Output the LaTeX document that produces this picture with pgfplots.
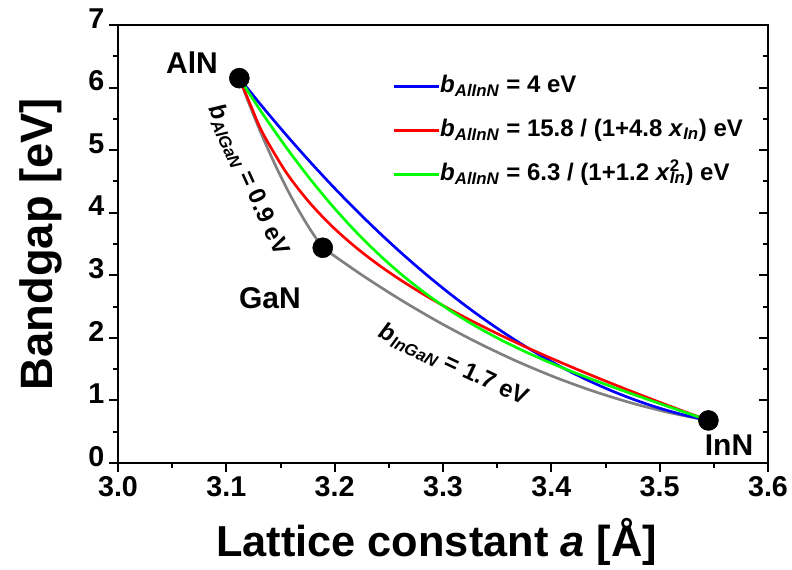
\documentclass[border=0pt]{standalone}
\usepackage{pgfplots}
\pgfplotsset{compat=1.18}
\usepackage{fontspec}
\setmainfont{Liberation Sans}
\definecolor{cblue}{RGB}{0,0,255}
\definecolor{cred}{RGB}{255,0,0}
\definecolor{cgreen}{RGB}{0,255,0}
\definecolor{cgray}{RGB}{128,128,128}
\begin{document}
\begin{tikzpicture}
\useasboundingbox (-88.5pt,-80.25pt) rectangle (505.5pt,347.25pt);
\begin{axis}[
  at={(0pt,0pt)}, anchor=south west,
  scale only axis, width=487.5pt, height=328.5pt,
  xmin=3.0, xmax=3.6, ymin=0, ymax=7,
  xtick={3.0,3.1,3.2,3.3,3.4,3.5,3.6},
  xticklabels={3.0,3.1,3.2,3.3,3.4,3.5,3.6},
  ytick={0,1,2,3,4,5,6,7},
  yticklabels={0,1,2,3,4,5,6,7},
  minor x tick num=1, minor y tick num=1,
  xtick pos=left, ytick pos=left,
  tick align=outside,
  major tick length=6.75pt, minor tick length=3.75pt,
  axis line style={line width=1.5pt},
  tick style={line width=1.5pt, black},
  ticklabel style={font=\fontsize{21.5}{24}\selectfont\bfseries},
  yticklabel style={yshift=5pt},
  xlabel={\textbf{Lattice constant \textit{a} [Å]}},
  ylabel={\textbf{Bandgap [eV]}},
  xlabel style={font=\fontsize{32.5}{36}\selectfont, at={(axis description cs:0.49,-0.2146)}, anchor=base},
  ylabel style={font=\fontsize{34}{38}\selectfont, at={(axis description cs:-0.1015,0.5)}, anchor=base, rotate=0},
  legend style={at={(axis description cs:0.4215,0.890)}, anchor=north west, draw=none, fill=none,
    inner sep=0pt, row sep=13pt, font=\fontsize{18}{20}\selectfont\bfseries,
    nodes={inner sep=0pt, text height=14pt, text depth=6pt},
    /tikz/every even column/.append style={column sep=6pt}},
  legend cell align=left,
  legend image code/.code={\draw[#1] (0pt,0pt) -- (34pt,0pt);},
]
% compound points
\addplot[only marks, mark=*, mark size=7.5pt, black, forget plot] coordinates {(3.112,6.15) (3.189,3.44) (3.545,0.68)};
% AlGaN (gray)
\addplot[cgray, line width=2pt, smooth, forget plot] coordinates {
(3.112,6.15) (3.1197,5.798) (3.1274,5.464) (3.1351,5.148) (3.1428,4.85) (3.1505,4.57)
(3.1582,4.308) (3.1659,4.064) (3.1736,3.838) (3.1813,3.63) (3.189,3.44)};
% InGaN (gray)
\addplot[cgray, line width=2pt, smooth, forget plot] coordinates {
(3.189,3.44) (3.2246,3.011) (3.2602,2.616) (3.2958,2.255) (3.3314,1.928) (3.367,1.635)
(3.4026,1.376) (3.4382,1.151) (3.4738,0.96) (3.5094,0.803) (3.545,0.68)};
% AlInN b=4
\addplot[cblue, line width=2pt, smooth] coordinates {
(3.112,6.15) (3.13365,5.6865) (3.1553,5.243) (3.17695,4.8195) (3.1986,4.416) (3.22025,4.0325)
(3.2419,3.669) (3.26355,3.3255) (3.2852,3.002) (3.30685,2.6985) (3.3285,2.415) (3.35015,2.1515)
(3.3718,1.908) (3.39345,1.6845) (3.4151,1.481) (3.43675,1.2975) (3.4584,1.134) (3.48005,0.9905)
(3.5017,0.867) (3.52335,0.7635) (3.545,0.68)};
\addlegendentry{\textit{b}\textsubscript{\textit{AlInN}} = 4 eV}
% AlInN red
\addplot[cred, line width=2pt, smooth] coordinates {
(3.112,6.15) (3.1233,5.68) (3.13365,5.2713) (3.1553,4.6422) (3.17695,4.1583) (3.1986,3.7662) (3.22025,3.4359)
(3.2419,3.1492) (3.26355,2.8943) (3.2852,2.6634) (3.30685,2.451) (3.3285,2.2532) (3.35015,2.0672)
(3.3718,1.8907) (3.39345,1.722) (3.4151,1.56) (3.43675,1.4035) (3.4584,1.2517) (3.48005,1.1039)
(3.5017,0.9597) (3.52335,0.8185) (3.545,0.68)};
\addlegendentry{\textit{b}\textsubscript{\textit{AlInN}} = 15.8 / (1+4.8 \textit{x}\textsubscript{\textit{In}}) eV}
% AlInN green
\addplot[cgreen, line width=2pt, smooth] coordinates {
(3.112,6.15) (3.13365,5.5781) (3.1553,5.0427) (3.17695,4.5474) (3.1986,4.0942) (3.22025,3.6837)
(3.2419,3.315) (3.26355,2.9859) (3.2852,2.6935) (3.30685,2.4341) (3.3285,2.2035) (3.35015,1.9975)
(3.3718,1.8121) (3.39345,1.6434) (3.4151,1.4879) (3.43675,1.3423) (3.4584,1.2039) (3.48005,1.0703)
(3.5017,0.9395) (3.52335,0.8098) (3.545,0.68)};
\addlegendentry{\textit{b}\textsubscript{\textit{AlInN}} = 6.3 / (1+1.2 \textit{x}\rlap{\textsuperscript{2}}\textsubscript{\textit{In}}) eV}
% labels
\node[font=\fontsize{22.5}{24}\selectfont\bfseries] at (axis cs:3.0683,6.393) {AlN};
\node[font=\fontsize{22.5}{24}\selectfont\bfseries] at (axis cs:3.1403,2.637) {GaN};
\node[font=\fontsize{22.5}{24}\selectfont\bfseries] at (axis cs:3.564,0.288) {InN};
\node[font=\fontsize{18}{20}\selectfont\bfseries, rotate=-65.6] at (axis cs:3.12,4.523) {\textit{b}\textsubscript{\textit{AlGaN}} = 0.9 eV};
\node[font=\fontsize{18}{20}\selectfont\bfseries, rotate=-25.4] at (axis cs:3.31,1.566) {\textit{b}\textsubscript{\textit{InGaN}} = 1.7 eV};
\end{axis}
\begin{axis}[
  at={(0pt,0pt)}, anchor=south west,
  scale only axis, width=487.5pt, height=328.5pt,
  xmin=3.0, xmax=3.6, ymin=0, ymax=7,
  hide x axis, axis y line*=right,
  ytick={0,1,2,3,4,5,6,7}, yticklabels={},
  minor y tick num=1,
  tick align=inside,
  major tick length=6.75pt, minor tick length=3.75pt,
  axis line style={line width=1.5pt},
  tick style={line width=1.5pt, black},
]
\addplot[draw=none, forget plot] coordinates {(3.0,0)};
\end{axis}
\end{tikzpicture}
\end{document}
